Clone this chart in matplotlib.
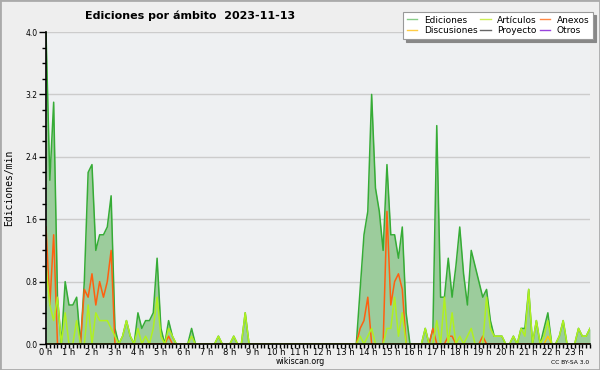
import numpy as np
import matplotlib
matplotlib.use("Agg")
import matplotlib.pyplot as plt
from matplotlib.patches import Rectangle
from matplotlib.lines import Line2D
from matplotlib.ticker import MultipleLocator, FixedLocator

# ---- data (edits per minute, 10-minute buckets starting 00:00) ----
ediciones = [4.0, 2.1, 3.1, 0.6, 0, 0.8, 0.5, 0.5, 0.6, 0, 0.8, 2.2, 2.3, 1.2, 1.4, 1.4, 1.5, 1.9, 0.2, 0,
             0.1, 0.3, 0.1, 0, 0.4, 0.2, 0.3, 0.3, 0.4, 1.1, 0.2, 0, 0.3, 0.1, 0, 0, 0, 0, 0.2, 0,
             0, 0, 0, 0, 0, 0.1, 0, 0, 0, 0.1, 0, 0, 0.4, 0, 0, 0, 0, 0, 0, 0,
             0, 0, 0, 0, 0, 0, 0, 0, 0, 0, 0, 0, 0, 0, 0, 0, 0, 0, 0, 0,
             0, 0, 0.7, 1.4, 1.7, 3.2, 2.0, 1.7, 1.2, 2.3, 1.4, 1.4, 1.1, 1.5, 0.4, 0, 0, 0, 0, 0.2,
             0, 0.2, 2.8, 0.6, 0.6, 1.1, 0.6, 1.0, 1.5, 0.9, 0.5, 1.2, 1.0, 0.8, 0.6, 0.7, 0.3, 0.1, 0.1, 0.1,
             0, 0, 0.1, 0, 0.2, 0.2, 0.7, 0, 0.3, 0, 0.2, 0.4, 0, 0, 0.1, 0.3, 0, 0, 0, 0.2,
             0.1, 0.1, 0.2]
articulos = [1.0, 0.5, 0.3, 0.6, 0, 0.4, 0, 0, 0.3, 0, 0, 0.5, 0, 0.4, 0.3, 0.3, 0.3, 0.2, 0.1, 0,
             0.1, 0.3, 0.1, 0, 0.2, 0, 0.1, 0, 0.2, 0.6, 0.1, 0, 0.2, 0.1, 0, 0, 0, 0, 0.1, 0,
             0, 0, 0, 0, 0, 0.1, 0, 0, 0, 0.1, 0, 0, 0.4, 0, 0, 0, 0, 0, 0, 0,
             0, 0, 0, 0, 0, 0, 0, 0, 0, 0, 0, 0, 0, 0, 0, 0, 0, 0, 0, 0,
             0, 0, 0.1, 0, 0.1, 0.2, 0, 0, 0, 0.2, 0.2, 0.6, 0.1, 0.4, 0, 0, 0, 0, 0, 0.2,
             0, 0, 0.3, 0, 0.6, 0, 0.4, 0, 0.1, 0, 0.1, 0.2, 0, 0, 0, 0.6, 0.2, 0.1, 0.1, 0.1,
             0, 0, 0.1, 0, 0.2, 0.1, 0.7, 0, 0.3, 0, 0.1, 0.3, 0, 0, 0.1, 0.3, 0, 0, 0, 0.2,
             0.1, 0.1, 0.2]
anexos = [1.5, 0.5, 1.4, 0, 0, 0, 0, 0, 0, 0, 0.7, 0.6, 0.9, 0.5, 0.8, 0.6, 0.8, 1.2, 0, 0,
          0, 0, 0, 0, 0, 0, 0, 0, 0, 0, 0, 0, 0.1, 0, 0, 0, 0, 0, 0, 0,
          0, 0, 0, 0, 0, 0, 0, 0, 0, 0, 0, 0, 0, 0, 0, 0, 0, 0, 0, 0,
          0, 0, 0, 0, 0, 0, 0, 0, 0, 0, 0, 0, 0, 0, 0, 0, 0, 0, 0, 0,
          0, 0, 0.2, 0.3, 0.6, 0, 0, 0, 0, 1.7, 0.5, 0.8, 0.9, 0.7, 0, 0, 0, 0, 0, 0,
          0, 0.2, 0, 0, 0, 0.1, 0.1, 0, 0, 0, 0, 0, 0, 0, 0.1, 0, 0, 0, 0, 0,
          0, 0, 0, 0, 0, 0, 0, 0, 0, 0, 0, 0, 0, 0, 0, 0, 0, 0, 0, 0,
          0, 0, 0]
discusiones = [0] * 131 + [0.1] + [0] * 11
proyecto = [0] * 143
otros = [0] * 143

hour_labels = [f"{h} h" for h in range(24)]
y_ticks = [0.0, 0.8, 1.6, 2.4, 3.2, 4.0]

# ---- figure ----
fig = plt.figure(figsize=(6.0, 3.7), dpi=100)
fig.patch.set_facecolor("#eeeeee")
ax = fig.add_axes([46 / 600, 1 - 344 / 370, 544 / 600, 312 / 370])
ax.set_facecolor("#eef0f2")

t = np.arange(len(ediciones)) / 6.0

ax.fill_between(t, 0, ediciones, color="#9ccc9c", lw=0, zorder=1)
ax.plot(t, ediciones, color="#36ac36", lw=1.1, zorder=2)
ax.plot(t, otros, color="#9933cc", lw=1, zorder=1.5)
ax.plot(t, proyecto, color="#555555", lw=1, zorder=1.5)
ax.plot(t, discusiones, color="#ffc800", lw=1, zorder=2.1)
ax.plot(t, anexos, color="#ff6010", lw=1.1, zorder=2.2)
ax.plot(t, articulos, color="#b0f020", lw=1.1, zorder=2.3)

ax.set_xlim(0, t[-1])
ax.set_ylim(0, 4.0)

ax.yaxis.set_major_locator(FixedLocator(y_ticks))
ax.set_yticklabels([f"{v:.1f}" for v in y_ticks])
ax.yaxis.set_minor_locator(MultipleLocator(0.2))
ax.xaxis.set_major_locator(FixedLocator(list(range(24))))
ax.set_xticklabels(hour_labels)
ax.xaxis.set_minor_locator(MultipleLocator(1 / 6))

ax.tick_params(axis="both", which="both", direction="out", color="black", width=1)
ax.tick_params(axis="y", which="major", length=5, labelsize=5.5, pad=1)
ax.tick_params(axis="y", which="minor", length=3)
ax.tick_params(axis="x", which="major", length=3, labelsize=6, pad=0)
ax.tick_params(axis="x", which="minor", length=3)

ax.grid(axis="y", which="major", color="#cccccc", lw=1, zorder=0)
ax.set_axisbelow(True)
for s in ("top", "right"):
    ax.spines[s].set_visible(False)
for s in ("left", "bottom"):
    ax.spines[s].set_linewidth(1.2)
    ax.spines[s].set_zorder(3)

ax.set_ylabel("Ediciones/min", family="DejaVu Sans Mono", fontsize=7, labelpad=8)

fig.text(85 / 600, 1 - 16 / 370, "Ediciones por ámbito  2023-11-13", fontsize=8,
         fontweight="bold", ha="left", va="center")
fig.text(300 / 600, 1 - 362 / 370, "wikiscan.org", fontsize=5.7, ha="center", va="center")
fig.text(589 / 600, 1 - 362 / 370, "CC BY-SA 3.0", fontsize=4.3, ha="right", va="center")

# legend
handles = [Line2D([], [], color="#88cc88", lw=1), Line2D([], [], color="#ffcc44", lw=1),
           Line2D([], [], color="#ccee55", lw=1), Line2D([], [], color="#666666", lw=1),
           Line2D([], [], color="#ff8844", lw=1), Line2D([], [], color="#9944dd", lw=1)]
labels = ["Ediciones", "Discusiones", "Artículos", "Proyecto", "Anexos", "Otros"]
leg = fig.legend(handles, labels, ncol=3, loc="upper right",
                 bbox_to_anchor=(593 / 600, 1 - 12 / 370), fontsize=6.5,
                 frameon=True, fancybox=False, shadow={"color": "#888888", "alpha": 1},
                 handlelength=1.2, handletextpad=0.7, columnspacing=0.3,
                 labelspacing=0.2, borderpad=0.4, borderaxespad=0)
leg.get_frame().set_edgecolor("#999999")
leg.get_frame().set_facecolor("white")
leg.get_frame().set_linewidth(0.8)

fig.add_artist(Rectangle((0, 0), 1, 1, transform=fig.transFigure, fill=False,
                         edgecolor="#aaaaaa", lw=2, zorder=10))

fig.savefig("out.png", dpi=100, facecolor=fig.get_facecolor())
